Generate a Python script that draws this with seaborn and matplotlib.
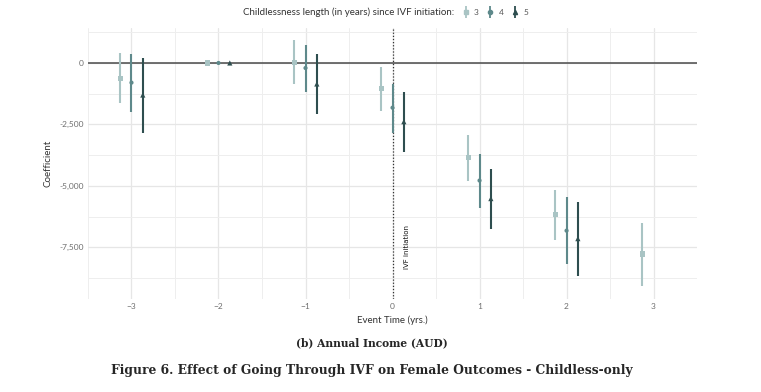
import matplotlib
matplotlib.use("Agg")
import matplotlib.pyplot as plt
import matplotlib.ticker as mticker
from matplotlib.lines import Line2D
import seaborn as sns
import pandas as pd

# event time, childlessness length groups
event_time = [-3, -2, -1, 0, 1, 2, 3]
groups = ["3", "4", "5"]

# point estimates per group (None where no estimate)
coef_3 = [-640, 0, 30, -1030, -3860, -6170, -7775]
lo_3 = [-1645, 0, -870, -1960, -4800, -7205, -9085]
hi_3 = [420, 0, 940, -160, -2935, -5150, -6500]

coef_4 = [-800, 0, -205, -1820, -4785, -6825, None]
lo_4 = [-1985, 0, -1180, -2830, -5900, -8195, None]
hi_4 = [355, 0, 750, -855, -3700, -5465, None]

coef_5 = [-1305, 0, -855, -2390, -5520, -7150, None]
lo_5 = [-2870, 0, -2090, -3615, -6740, -8690, None]
hi_5 = [190, 0, 355, -1170, -4320, -5640, None]

rows = []
for g, c, lo, hi in [("3", coef_3, lo_3, hi_3), ("4", coef_4, lo_4, hi_4), ("5", coef_5, lo_5, hi_5)]:
    for t, v, l, h in zip(event_time, c, lo, hi):
        if v is None:
            continue
        rows.append({"t": t, "group": g, "coef": v, "lo": l, "hi": h})
df = pd.DataFrame(rows)

colors = {"3": "#a9c4c4", "4": "#5e898b", "5": "#2e4e4f"}
markers = {"3": "s", "4": "o", "5": "^"}
msizes = {"3": 14, "4": 9, "5": 14}
offset = {"3": -0.13, "4": 0.0, "5": 0.13}
df["x"] = df["t"] + df["group"].map(offset)

sns.set_theme(style="whitegrid")
plt.rcParams["font.family"] = ["Lato", "DejaVu Sans"]

fig = plt.figure(figsize=(7.61, 3.92), dpi=100)
ax = fig.add_axes([0.1156, 0.2383, 0.8004, 0.6913])

ax.axhline(0, color="#4a4a4a", lw=1.1, zorder=1)
ax.axvline(0, color="#333333", lw=0.9, ls=(0, (1, 1.5)), zorder=1)

for g in groups:
    d = df[df["group"] == g]
    ax.vlines(d["x"], d["lo"], d["hi"], color=colors[g], lw=1.5, zorder=2)

sns.scatterplot(data=df, x="x", y="coef", hue="group", style="group",
                palette=colors, markers=markers, size="group", sizes=msizes,
                linewidth=0, legend=False, ax=ax, zorder=3)

ax.text(0.165, -7490, "IVF initiation", rotation=90, fontsize=5,
        family="DejaVu Sans", color="#111111", ha="center", va="center")

ax.set_xlim(-3.5, 3.5)
ax.set_ylim(-9590, 1440)
ax.set_xticks([-3, -2, -1, 0, 1, 2, 3])
ax.xaxis.set_minor_locator(mticker.MultipleLocator(0.5))
ax.set_yticks([0, -2500, -5000, -7500])
ax.set_yticks([1250, -1250, -3750, -6250, -8750], minor=True)
ax.yaxis.set_major_formatter(mticker.FuncFormatter(lambda v, p: f"{v:,.0f}"))
ax.grid(which="major", color="#e6e6e6", lw=0.9)
ax.grid(which="minor", color="#eeeeee", lw=0.7)
for s in ax.spines.values():
    s.set_visible(False)
ax.tick_params(which="both", length=0, labelsize=6, labelcolor="#6e6e6e", pad=3)

ax.set_xlabel("Event Time (yrs.)", fontsize=7, color="#333333", labelpad=4)
ax.set_ylabel("Coefficient", fontsize=7, color="#333333", labelpad=5)

# legend along the top
fig.text(0.597, 0.969, "Childlessness length (in years) since IVF initiation:",
         ha="right", va="center", fontsize=7, color="#333333")
handles = [(Line2D([], [], marker="|", ms=9, mew=1.3, color=colors[g], ls="none"),
            Line2D([], [], marker=markers[g], ms=3, color=colors[g], ls="none"))
           for g in groups]
fig.legend(handles, groups, loc="center left", bbox_to_anchor=(0.602, 0.969),
           ncol=3, frameon=False, fontsize=6, handlelength=0.8, handletextpad=0.6,
           columnspacing=1.0, borderpad=0, labelcolor="#555555")

fig.text(0.489, 0.126, "(b) Annual Income (AUD)", ha="center", va="center",
         fontsize=7.7, fontweight="bold", family="DejaVu Serif")
fig.text(0.489, 0.055, "Figure 6. Effect of Going Through IVF on Female Outcomes - Childless-only",
         ha="center", va="center", fontsize=8.8, fontweight="bold", family="DejaVu Serif")

fig.savefig("out.png", dpi=100)
